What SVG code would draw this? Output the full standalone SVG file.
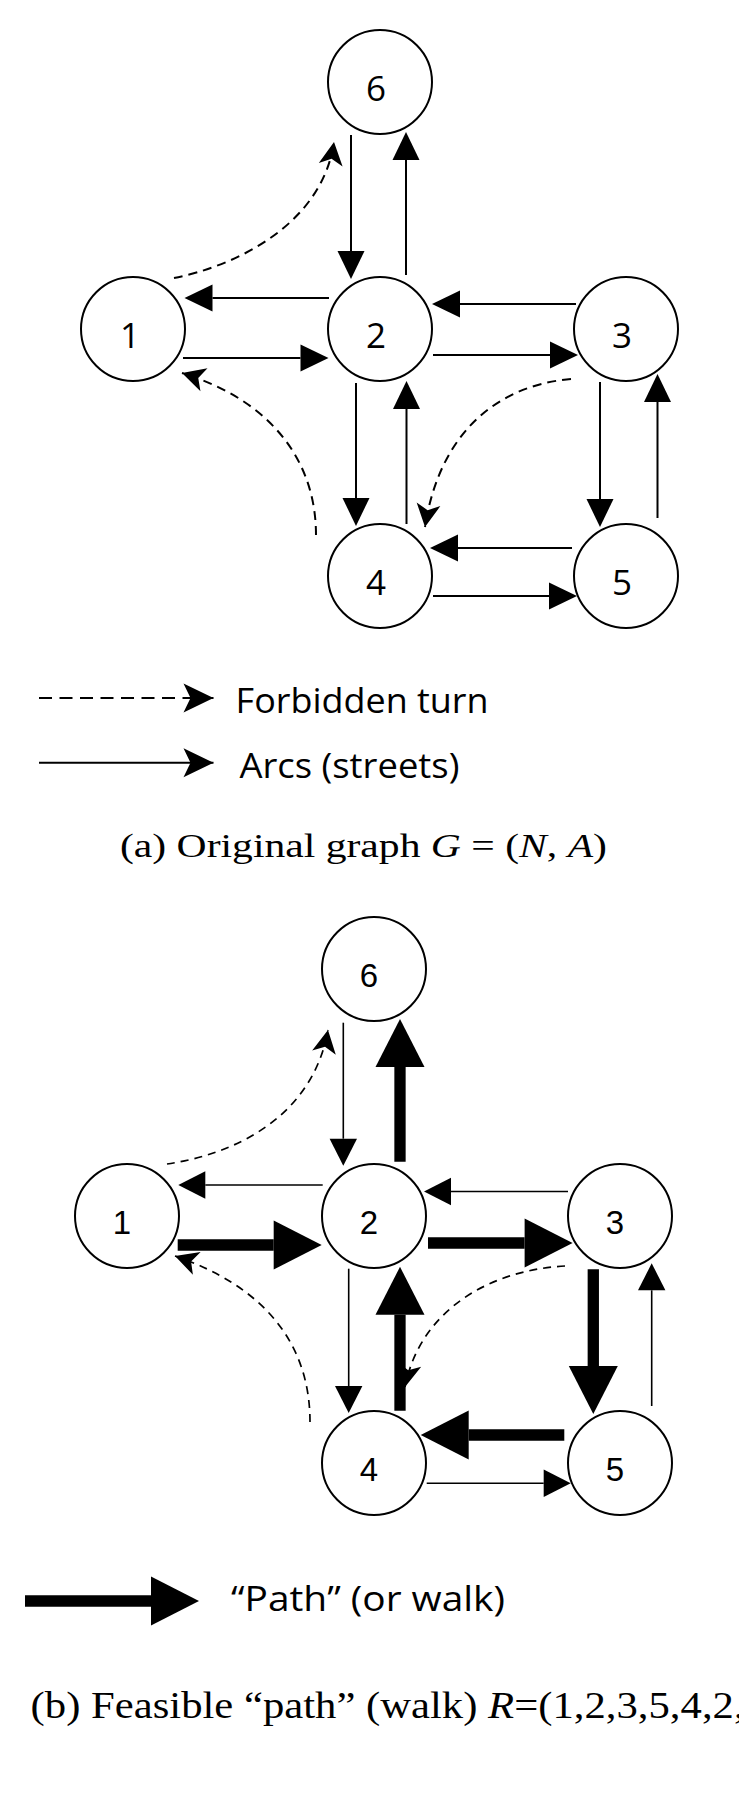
<svg xmlns="http://www.w3.org/2000/svg" width="739" height="1814" viewBox="0 0 739 1814">
<style>
  .bg { fill: #ffffff; }
  .node circle { fill: #ffffff; stroke: #000000; stroke-width: 2; }
  .numA { font-family: "Open Sans", "Liberation Sans", sans-serif; font-size: 35px; fill: #000; text-anchor: middle; }
  .numB { font-family: "Liberation Sans", Arial, sans-serif; font-size: 33px; fill: #000; text-anchor: middle; }
  .arc { fill: none; stroke: #000; stroke-width: 2; }
  .arcB { fill: none; stroke: #000; stroke-width: 1.6; }
  .thick { fill: none; stroke: #000; stroke-width: 11.3; }
  .turn { fill: none; stroke: #000; stroke-width: 2; stroke-dasharray: 9 6; }
  .turnB { fill: none; stroke: #000; stroke-width: 1.7; stroke-dasharray: 8 6; }
  .legdash { fill: none; stroke: #000; stroke-width: 2; stroke-dasharray: 13 7.5; }
  .legtxt { font-family: "Open Sans", "Liberation Sans", sans-serif; font-size: 35px; fill: #000; }
  .cap { font-family: "Liberation Serif", "DejaVu Serif", serif; fill: #000; }
</style>
<defs>
  <marker id="ah" markerUnits="userSpaceOnUse" orient="auto" refX="0" refY="0" markerWidth="30" markerHeight="30" overflow="visible">
    <path d="M0,-13.5 L28,0 L0,13.5 Z" fill="#000"/>
  </marker>
  <marker id="ahB" markerUnits="userSpaceOnUse" orient="auto" refX="0" refY="0" markerWidth="30" markerHeight="30" overflow="visible">
    <path d="M0,-13.7 L27,0 L0,13.7 Z" fill="#000"/>
  </marker>
  <marker id="ahBig" markerUnits="userSpaceOnUse" orient="auto" refX="0" refY="0" markerWidth="50" markerHeight="50" overflow="visible">
    <path d="M0,-24.5 L48,0 L0,24.5 Z" fill="#000"/>
  </marker>
  <marker id="st" markerUnits="userSpaceOnUse" orient="auto" refX="0" refY="0" markerWidth="30" markerHeight="30" overflow="visible">
    <path d="M0,0 L-23,-12 L-17,0 L-23,12 Z" fill="#000"/>
  </marker>
  <marker id="stLeg" markerUnits="userSpaceOnUse" orient="auto" refX="0" refY="0" markerWidth="40" markerHeight="40" overflow="visible">
    <path d="M0,0 L-30,-14.5 L-23,0 L-30,14.5 Z" fill="#000"/>
  </marker>
</defs>
<rect class="bg" x="0" y="0" width="739" height="1814"/>

<!-- ===== (a) Original graph ===== -->
<g id="connectors-a">
  <path class="arc" d="M351,135 L351,251" marker-end="url(#ah)"/>
  <path class="arc" d="M406,275 L406,160" marker-end="url(#ah)"/>
  <path class="arc" d="M329,298 L212.5,298" marker-end="url(#ah)"/>
  <path class="arc" d="M183,358 L300.5,358" marker-end="url(#ah)"/>
  <path class="arc" d="M576,304 L460,304" marker-end="url(#ah)"/>
  <path class="arc" d="M433,355 L550,355" marker-end="url(#ah)"/>
  <path class="arc" d="M356,383 L356,498" marker-end="url(#ah)"/>
  <path class="arc" d="M406.5,524 L406.5,409" marker-end="url(#ah)"/>
  <path class="arc" d="M600,382 L600,499" marker-end="url(#ah)"/>
  <path class="arc" d="M657.5,518 L657.5,402" marker-end="url(#ah)"/>
  <path class="arc" d="M572,548 L458,548" marker-end="url(#ah)"/>
  <path class="arc" d="M433,596 L549,596" marker-end="url(#ah)"/>
  <path class="turn" d="M174,278 C235,266 322,225 334,142" marker-end="url(#st)"/>
  <path class="turn" d="M316,535 C316,460 270,400 182,373" marker-end="url(#st)"/>
  <path class="turn" d="M571,379 C500,385 440,430 425,527" marker-end="url(#st)"/>
</g>
<g id="a-node1" class="node"><circle cx="133" cy="329" r="52"/><text class="numA" x="130" y="348">1</text></g>
<g id="a-node2" class="node"><circle cx="380" cy="329" r="52"/><text class="numA" x="376" y="348">2</text></g>
<g id="a-node3" class="node"><circle cx="626" cy="329" r="52"/><text class="numA" x="622" y="348">3</text></g>
<g id="a-node4" class="node"><circle cx="380" cy="576" r="52"/><text class="numA" x="376" y="595">4</text></g>
<g id="a-node5" class="node"><circle cx="626" cy="576" r="52"/><text class="numA" x="622" y="595">5</text></g>
<g id="a-node6" class="node"><circle cx="380" cy="82" r="52"/><text class="numA" x="376" y="101">6</text></g>

<g id="legend-a">
  <path class="legdash" d="M39,698 L213.5,698" marker-end="url(#stLeg)"/>
  <text class="legtxt" x="235.6" y="712.7" textLength="253" lengthAdjust="spacingAndGlyphs">Forbidden turn</text>
  <path class="arc" d="M39,762.7 L213.5,762.7" marker-end="url(#stLeg)"/>
  <text class="legtxt" x="239.4" y="778" textLength="220" lengthAdjust="spacingAndGlyphs">Arcs (streets)</text>
</g>
<text id="caption-a" class="cap" x="120" y="857" font-size="33" textLength="487" lengthAdjust="spacingAndGlyphs">(a) Original graph <tspan font-style="italic">G</tspan> = (<tspan font-style="italic">N</tspan>, <tspan font-style="italic">A</tspan>)</text>

<!-- ===== (b) Feasible path ===== -->
<g id="connectors-b">
  <path class="arcB" d="M343.3,1022.7 L343.3,1138.7" marker-end="url(#ahB)"/>
  <path class="arcB" d="M322.7,1185 L205.3,1185" marker-end="url(#ahB)"/>
  <path class="arcB" d="M568,1191.5 L451,1191.5" marker-end="url(#ahB)"/>
  <path class="arcB" d="M348.7,1268.7 L348.7,1386" marker-end="url(#ahB)"/>
  <path class="arcB" d="M651.7,1406 L651.7,1290.3" marker-end="url(#ahB)"/>
  <path class="arcB" d="M426.7,1483.3 L543.7,1483.3" marker-end="url(#ahB)"/>
  <path class="turnB" d="M167,1164 C230,1155 312,1120 328,1030" marker-end="url(#st)"/>
  <path class="turnB" d="M310,1422 C310,1340 260,1285 175,1256" marker-end="url(#st)"/>
  <path class="turnB" d="M565,1266 C490,1270 420,1310 405,1387" marker-end="url(#st)"/>
  <path class="thick" d="M400,1161.7 L400,1067" marker-end="url(#ahBig)"/>
  <path class="thick" d="M177.7,1245 L273.7,1245" marker-end="url(#ahBig)"/>
  <path class="thick" d="M428,1243 L524.6,1243" marker-end="url(#ahBig)"/>
  <path class="thick" d="M400,1410.7 L400,1314.8" marker-end="url(#ahBig)"/>
  <path class="thick" d="M593.3,1269.3 L593.3,1366" marker-end="url(#ahBig)"/>
  <path class="thick" d="M564.3,1435 L468.7,1435" marker-end="url(#ahBig)"/>
</g>
<g id="b-node1" class="node"><circle cx="127" cy="1216" r="52"/><text class="numB" x="122" y="1234">1</text></g>
<g id="b-node2" class="node"><circle cx="374" cy="1216" r="52"/><text class="numB" x="369" y="1234">2</text></g>
<g id="b-node3" class="node"><circle cx="620" cy="1216" r="52"/><text class="numB" x="615" y="1234">3</text></g>
<g id="b-node4" class="node"><circle cx="374" cy="1463" r="52"/><text class="numB" x="369" y="1481">4</text></g>
<g id="b-node5" class="node"><circle cx="620" cy="1463" r="52"/><text class="numB" x="615" y="1481">5</text></g>
<g id="b-node6" class="node"><circle cx="374" cy="969" r="52"/><text class="numB" x="369" y="987">6</text></g>

<g id="legend-b">
  <path d="M25,1601 L151,1601" fill="none" stroke="#000" stroke-width="11.7" marker-end="url(#ahBig)"/>
  <text class="legtxt" x="231" y="1610.7" font-size="37" textLength="274" lengthAdjust="spacingAndGlyphs">“Path” (or walk)</text>
</g>
<text id="caption-b" class="cap" x="30.6" y="1718" font-size="37" textLength="714" lengthAdjust="spacingAndGlyphs">(b) Feasible “path” (walk) <tspan font-style="italic">R</tspan>=(1,2,3,5,4,2,</text>
</svg>
